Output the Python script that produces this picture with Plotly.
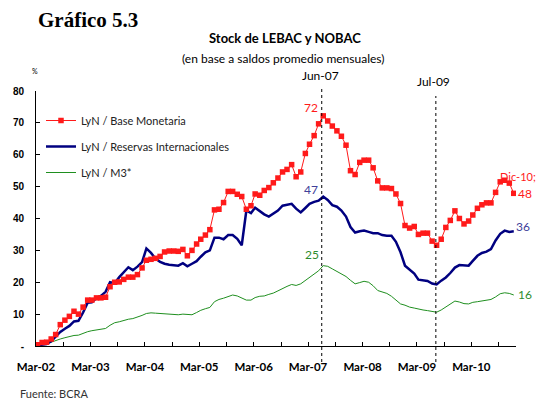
import pandas as pd
import plotly.graph_objects as go

# ---- data (monthly, Mar-02 .. Dec-10) ----
months = pd.date_range("2002-03-01", periods=106, freq="MS")

base_monetaria = [
    0.4, 1.1, 1.2, 2.2, 3.6, 6.7, 8.1, 9.3, 10.9, 10.0, 12.2, 14.4,
    14.4, 15.1, 15.1, 15.3, 18.6, 20.0, 20.1, 20.9, 21.6, 21.6, 22.4, 24.5,
    26.9, 27.2, 27.5, 28.1, 29.5, 29.8, 29.8, 29.7, 30.3, 28.3, 30.0, 32.0,
    33.5, 34.8, 36.5, 42.7, 42.9, 45.0, 48.5, 48.5, 47.6, 46.9, 42.9, 44.0,
    47.7, 47.3, 48.8, 49.7, 51.2, 52.7, 54.6, 55.4, 56.9, 53.1, 54.6, 60.4,
    63.3, 66.0, 69.7, 72.2, 70.6, 69.0, 67.5, 65.8, 63.0, 55.0, 53.8, 57.6,
    58.3, 58.3, 55.9, 51.8, 49.6, 49.6, 49.4, 47.7, 44.7, 37.8, 37.0, 37.5,
    35.0, 35.4, 35.4, 32.9, 31.6, 33.5, 37.2, 39.4, 42.4, 40.0, 38.3, 39.2,
    41.1, 43.2, 44.3, 44.9, 44.9, 48.2, 51.5, 52.0, 51.1, 47.9,
]

reservas = [
    0.2, 0.3, 0.6, 1.5, 3.0, 4.4, 5.4, 6.3, 7.7, 7.9, 10.5, 13.6,
    13.7, 15.0, 15.7, 17.0, 20.0, 19.7, 21.6, 23.0, 24.7, 23.8, 24.9, 26.3,
    30.6, 29.2, 27.4, 26.4, 25.8, 25.5, 25.3, 25.2, 26.0, 25.0, 25.8, 26.6,
    28.0, 29.4, 30.0, 34.0, 34.0, 33.5, 34.8, 34.8, 33.6, 31.6, 42.5, 41.7,
    43.4, 42.2, 41.3, 40.6, 41.5, 42.5, 44.0, 44.2, 44.6, 43.1, 41.9, 43.3,
    44.6, 45.2, 45.6, 46.9, 45.8, 44.2, 43.7, 42.5, 40.6, 37.3, 35.6, 36.0,
    36.2, 35.8, 35.4, 35.4, 34.8, 34.6, 34.6, 32.7, 29.4, 25.2, 23.8, 22.7,
    20.8, 20.6, 20.4, 19.6, 19.3, 20.5, 21.5, 22.9, 24.6, 25.4, 25.4, 25.2,
    26.7, 28.3, 29.2, 29.6, 30.4, 33.1, 35.2, 36.2, 35.8, 36.0,
]

m3 = [
    0.1, 0.3, 0.7, 1.2, 1.8, 2.2, 2.6, 3.0, 3.3, 3.4, 4.0, 4.5,
    4.8, 5.0, 5.1, 5.5, 6.5, 7.3, 7.6, 8.1, 8.4, 8.6, 9.0, 9.6,
    10.2, 10.4, 10.3, 10.2, 10.0, 10.0, 10.0, 9.8, 10.0, 9.9, 9.8, 10.5,
    11.2, 11.7, 12.1, 13.9, 14.6, 15.0, 15.6, 16.0, 15.7, 15.0, 14.4, 14.4,
    15.2, 15.6, 15.7, 16.2, 16.6, 17.3, 18.1, 18.7, 19.3, 19.0, 19.5, 20.5,
    21.5, 22.5, 23.6, 25.2, 25.0, 24.2, 23.4, 22.8, 21.8, 20.6, 19.5, 19.9,
    20.3, 20.0, 18.9, 17.4, 16.9, 16.5, 15.6, 14.4, 13.2, 12.8, 12.2, 11.9,
    11.5, 11.3, 11.1, 10.8, 10.6, 11.3, 12.3, 13.3, 14.1, 13.8, 13.3, 13.2,
    13.7, 13.9, 14.1, 14.3, 14.6, 15.4, 16.4, 16.7, 16.5, 16.0,
]

y_ticks = [0, 10, 20, 30, 40, 50, 60, 70, 80]
y_tick_labels = ["-", "10", "20", "30", "40", "50", "60", "70", "80"]
x_tick_dates = pd.date_range("2002-03-01", "2010-09-01", freq="6MS")
x_tick_labels = [d.strftime("Mar-%y") if d.month == 3 else "" for d in x_tick_dates]

# ---- layout helpers (pixel -> paper) ----
W, H = 538, 400
L, R, T, B = 36, 22, 91, 54
PW, PH = W - L - R, H - T - B


def xp(px):
    return (px - L) / PW


def yp(py):
    return (H - B - py) / PH


GILL = "Lato, 'Open Sans', sans-serif"
x_pts = months + pd.Timedelta(days=10)

fig = go.Figure()
fig.add_trace(go.Scatter(
    x=x_pts, y=m3, mode="lines", name="LyN / M3*",
    line=dict(color="#1f8f1f", width=1), legendgroup="c", legendrank=3))
fig.add_trace(go.Scatter(
    x=x_pts, y=reservas, mode="lines", name="LyN / Reservas Internacionales",
    line=dict(color="#000080", width=2.5), legendgroup="b", legendrank=2))
fig.add_trace(go.Scatter(
    x=x_pts, y=base_monetaria, mode="lines+markers", name="LyN / Base Monetaria",
    line=dict(color="#ff1a1a", width=1),
    marker=dict(symbol="square", size=5.5, color="#ff1a1a"),
    legendgroup="a", legendrank=1))

# vertical dotted reference lines
for d, top in (("2007-06-01", 88), ("2009-07-06", 96)):
    fig.add_shape(type="line", xref="x", yref="paper", x0=d, x1=d,
                  y0=yp(362), y1=yp(top),
                  line=dict(color="black", width=1, dash="dot"))

ann = []


def text(t, x, y, size, color="black", family=GILL, xanchor="center", bold=False):
    ann.append(dict(text=f"<b>{t}</b>" if bold else t, x=xp(x), y=yp(y),
                    xref="paper", yref="paper", showarrow=False,
                    xanchor=xanchor, yanchor="middle", borderpad=0,
                    font=dict(size=size, color=color, family=family)))


text("Gráfico 5.3", 37, 20, 21, family="'Liberation Serif', 'Times New Roman', serif",
     xanchor="left", bold=True)
text("Stock de LEBAC y NOBAC", 285, 38, 13, bold=True)
text("(en base a saldos promedio mensuales)", 283, 58, 12)
text("%", 35, 71, 7)
text("Jun-07", 320, 75, 12)
text("Jul-09", 433, 82, 12)
text("72", 311, 107, 12, color="#ff1a1a")
text("47", 311, 189, 12, color="#40409a")
text("25", 312, 255, 12, color="#2e8b2e")
text("Dic-10;", 537, 176, 11, color="#ff1a1a", xanchor="right")
text("48", 517, 193, 12, color="#ff1a1a", xanchor="left")
text("36", 515, 226, 12, color="#40409a", xanchor="left")
text("16", 517, 294, 12, color="#2e8b2e", xanchor="left")
text("Fuente: BCRA", 19, 393, 11, color="#333333", xanchor="left")

fig.update_layout(
    width=W, height=H,
    margin=dict(l=L, r=R, t=T, b=B, pad=0, autoexpand=False),
    paper_bgcolor="white", plot_bgcolor="white",
    annotations=ann,
    showlegend=True,
    legend=dict(x=xp(41), y=yp(106), xanchor="left", yanchor="top",
                font=dict(size=11, family=GILL, color="#222222"),
                bgcolor="rgba(0,0,0,0)", tracegroupgap=7,
                traceorder="grouped", itemwidth=30),
    xaxis=dict(
        type="date", range=["2002-03-01", "2010-12-26"], automargin=False,
        tickvals=list(x_tick_dates), ticktext=[f"<b>{t}</b>" if t else "" for t in x_tick_labels],
        ticks="inside", ticklen=4, tickcolor="black", tickwidth=1,
        showline=True, linecolor="black", linewidth=1,
        showgrid=False, zeroline=False,
        tickfont=dict(size=11.5, family=GILL, color="black"),
        ticklabelstandoff=10,
    ),
    yaxis=dict(
        range=[0, 80], tickvals=y_ticks, automargin=False,
        ticktext=[f"<b>{t}</b>" for t in y_tick_labels],
        ticks="inside", ticklen=4, tickcolor="black", tickwidth=1,
        showline=True, linecolor="black", linewidth=1,
        showgrid=False, zeroline=False,
        tickfont=dict(size=10, family="'Liberation Sans', Arial, sans-serif", color="black"),
        ticklabelstandoff=9,
    ),
)

fig.write_html("out.html", config={"displayModeBar": False},
               post_script="document.body.style.margin='0px';")
